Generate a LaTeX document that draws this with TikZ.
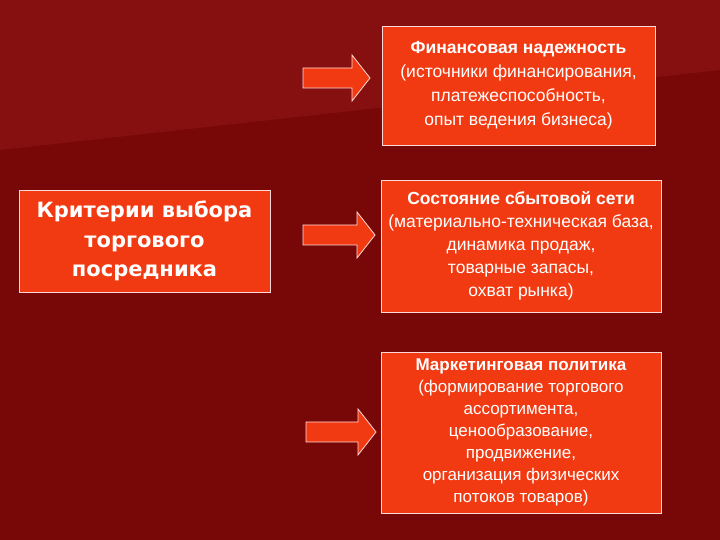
\documentclass[tikz,border=0pt]{standalone}
\usepackage{fontspec}
\setmainfont{Liberation Sans}
\newfontfamily\tahoma{DejaVu Sans}
\definecolor{bgd}{HTML}{780808}
\definecolor{bgl}{HTML}{861010}
\definecolor{boxr}{HTML}{F23A12}
\tikzset{
 rbox/.style={draw=white!85!red, line width=0.8pt, fill=boxr, text=white, align=center, inner sep=0pt},
 barrow/.style={draw=white!85!red, line width=0.8pt, fill=boxr, line join=miter},
}
\newcommand{\blockarrow}[3]{% x0, x1, ycenter (tikz coords)
 \draw[barrow] (#1,#3+10) -- (#2-18,#3+10) -- (#2-18,#3+23) -- (#2,#3) -- (#2-18,#3-23) -- (#2-18,#3-10) -- (#1,#3-10) -- cycle;}
\begin{document}
\begin{tikzpicture}[x=1pt,y=1pt]
\fill[bgd] (0,0) rectangle (720,540);
\fill[bgl] (0,540) -- (720,540) -- (720,470) -- (0,390) -- cycle;
\useasboundingbox (0,0) rectangle (720,540);
\node[rbox, minimum width=273pt, minimum height=119pt, font=\fontsize{17.5}{24}\selectfont] (b1) at (518.5,454.5) {\textbf{Финансовая надежность}\\(источники финансирования,\\платежеспособность,\\опыт ведения бизнеса)};
\node[rbox, minimum width=280pt, minimum height=132pt, font=\fontsize{17.5}{23}\selectfont] (b2) at (521,294) {\textbf{Состояние сбытовой сети}\\(материально-техническая база,\\динамика продаж,\\товарные запасы,\\охват рынка)};
\node[rbox, minimum width=280pt, minimum height=161pt, font=\fontsize{17}{22}\selectfont] (b3) at (521,107.5) {\textbf{Маркетинговая политика}\\(формирование торгового\\ассортимента,\\ценообразование,\\продвижение,\\организация физических\\потоков товаров)};
\node[rbox, minimum width=251pt, minimum height=102pt, font=\tahoma\fontsize{21}{29.5}\selectfont\bfseries] (L) at (144.5,299) {Критерии выбора\\торгового\\посредника};
\blockarrow{303}{370}{462}
\blockarrow{303}{375}{305}
\blockarrow{306}{376}{108}
\end{tikzpicture}
\end{document}
